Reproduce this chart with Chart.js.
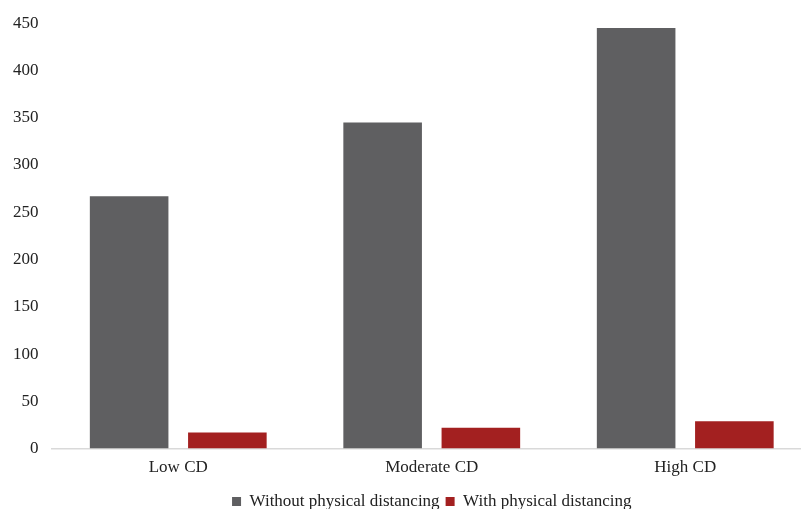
<!DOCTYPE html>
<html>
<head>
<meta charset="utf-8">
<script src="https://cdn.jsdelivr.net/npm/chart.js@4.4.0/dist/chart.umd.min.js"></script>
<style>
    html, body { margin: 0; padding: 0; background: #fff; overflow: hidden; }
    #wrap { width: 812px; height: 509px; }
</style>
</head>
<body>
<div id="wrap"><canvas id="cdChart"></canvas></div>
<script>
// data
const categories = ['Low CD', 'Moderate CD', 'High CD'];
const withoutDistancing = [267, 345, 445];
const withDistancing = [17, 22, 29];
const yTicks = [0, 50, 100, 150, 200, 250, 300, 350, 400, 450];

Chart.defaults.font.family = '"Liberation Serif", "Times New Roman", serif';
Chart.defaults.color = '#222';

const ctx = document.getElementById('cdChart').getContext('2d');
new Chart(ctx, {
    type: 'bar',
    data: {
        labels: categories,
        datasets: [{
            label: 'Without physical distancing',
            data: withoutDistancing,
            backgroundColor: '#5f5f61',
            categoryPercentage: 0.775,
            barPercentage: 0.8
        }, {
            label: 'With physical distancing',
            data: withDistancing,
            backgroundColor: '#a32020',
            categoryPercentage: 0.775,
            barPercentage: 0.8
        }]
    },
    options: {
        responsive: true,
        maintainAspectRatio: false,
        animation: false,
        layout: {
            padding: { top: 3, left: 0, bottom: -11 }
        },
        plugins: {
            legend: {
                position: 'bottom',
                fullSize: false,
                labels: {
                    boxWidth: 9,
                    boxHeight: 9,
                    padding: 6,
                    font: { size: 17 }
                }
            },
            tooltip: { enabled: false }
        },
        scales: {
            x: {
                grid: { display: false, drawTicks: false },
                border: { display: true, color: '#d9d9d9', width: 1.5 },
                ticks: { font: { size: 17 }, padding: 9 }
            },
            y: {
                min: 0,
                max: 450,
                afterBuildTicks: axis => { axis.ticks = yTicks.map(v => ({ value: v })); },
                grid: { display: false, drawTicks: false },
                border: { display: false },
                ticks: { font: { size: 17 }, padding: 13 }
            }
        }
    }
});
</script>
</body>
</html>
